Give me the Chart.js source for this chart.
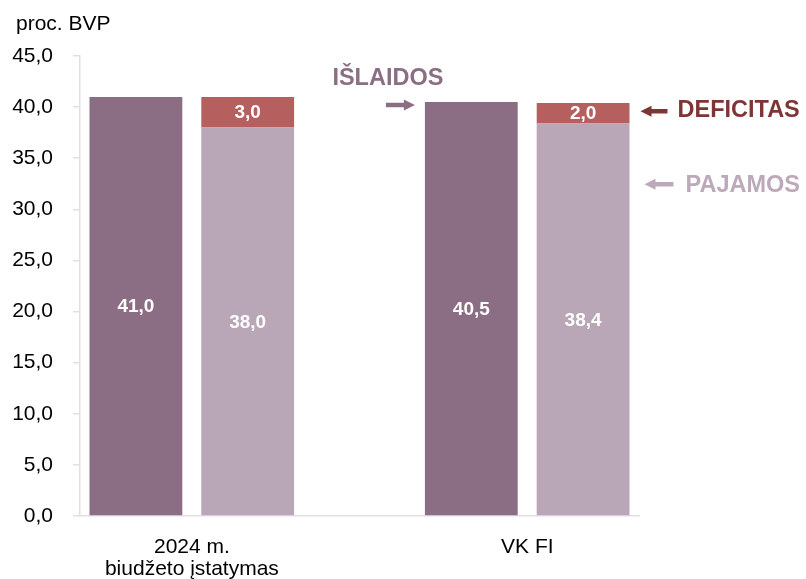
<!DOCTYPE html>
<html lang="lt">
<head>
<meta charset="UTF-8">
<title>proc. BVP</title>
<script src="https://cdn.jsdelivr.net/npm/chart.js@4"></script>
<style>
  * { margin: 0; padding: 0; }
  body { background: #fff; width: 806px; height: 579px; overflow: hidden; }
  canvas { display: block; }
</style>
</head>
<body>
<canvas id="chart" width="806" height="579"></canvas>
<script>
const categories = [['2024 m.', 'biudžeto įstatymas'], ['VK FI']]
const islaidos = [41.0, 40.5]
const pajamos = [38.0, 38.4]
const deficitas = [3.0, 2.0]
const yTicks = [0, 5, 10, 15, 20, 25, 30, 35, 40, 45]
const seriesNames = ['IŠLAIDOS', 'PAJAMOS', 'DEFICITAS']
const unitLabel = 'proc. BVP'

const colors = { isl: '#8c6e84', paj: '#b9a6b7', def: '#b5605f', defText: '#7d3535', pajText: '#bca9ba' }
const FONT = "'Liberation Sans', Arial, sans-serif"

// each group: expenses bar, revenue+deficit bar, then an empty slot between groups
const slotLabels = []
const islSlots = []
const pajSlots = []
const defSlots = []
categories.forEach((c, g) => {
  if (g > 0) {
    slotLabels.push('')
    islSlots.push(null); pajSlots.push(null); defSlots.push(null)
  }
  slotLabels.push(c, '')
  islSlots.push(islaidos[g], null)
  pajSlots.push(null, pajamos[g])
  defSlots.push(null, deficitas[g])
})

const fmt = v => v.toFixed(1).replace('.', ',')

const valueLabels = {
  id: 'valueLabels',
  afterDatasetsDraw(chart) {
    const ctx = chart.ctx
    ctx.save()
    ctx.font = 'bold 19px ' + FONT
    ctx.fillStyle = '#fff'
    ctx.textAlign = 'center'
    ctx.textBaseline = 'middle'
    chart.data.datasets.forEach((ds, i) => {
      chart.getDatasetMeta(i).data.forEach((el, j) => {
        if (ds.data[j] == null) return
        const p = el.getCenterPoint()
        ctx.fillText(fmt(ds.data[j]), p.x, p.y + 1)
      })
    })
    ctx.restore()
  }
}

const arrow = (ctx, x0, x1, y, color) => {
  const dir = Math.sign(x1 - x0)
  ctx.strokeStyle = color
  ctx.fillStyle = color
  ctx.lineWidth = 4.5
  ctx.beginPath()
  ctx.moveTo(x0, y)
  ctx.lineTo(x1 - dir * 9, y)
  ctx.stroke()
  ctx.beginPath()
  ctx.moveTo(x1, y)
  ctx.lineTo(x1 - dir * 11, y - 5.5)
  ctx.lineTo(x1 - dir * 11, y + 5.5)
  ctx.closePath()
  ctx.fill()
}

const callouts = {
  id: 'callouts',
  afterDraw(chart) {
    const ctx = chart.ctx
    const last = slotLabels.length - 1
    const islBar = chart.getDatasetMeta(0).data[last - 1]
    const defBar = chart.getDatasetMeta(2).data[last]
    const islLeft = islBar.x - islBar.width / 2
    const defRight = defBar.x + defBar.width / 2
    const defMid = (defBar.y + defBar.base) / 2
    ctx.save()
    ctx.textBaseline = 'middle'

    // unit label above the axis
    ctx.font = '21px ' + FONT
    ctx.fillStyle = '#000'
    ctx.textAlign = 'left'
    ctx.fillText(unitLabel, 16, 24)

    ctx.font = 'bold 23.5px ' + FONT

    // IŠLAIDOS
    const iy = islBar.y + 3
    arrow(ctx, islLeft - 39, islLeft - 10, iy, colors.isl)
    ctx.fillStyle = colors.isl
    ctx.textAlign = 'center'
    ctx.fillText(seriesNames[0], islLeft - 37, iy - 26)

    // DEFICITAS
    const dy = defMid - 2
    arrow(ctx, defRight + 38, defRight + 11, dy, colors.defText)
    ctx.fillStyle = colors.defText
    ctx.textAlign = 'left'
    ctx.fillText(seriesNames[2], defRight + 48, dy - 1)

    // PAJAMOS
    const py = dy + 73
    arrow(ctx, defRight + 44, defRight + 15, py, colors.pajText)
    ctx.fillStyle = colors.pajText
    ctx.fillText(seriesNames[1], defRight + 56, py + 1)
    ctx.restore()
  }
}

const axisColor = '#e6dde3'

new Chart(document.getElementById('chart'), {
  type: 'bar',
  data: {
    labels: slotLabels,
    datasets: [
      { label: 'Išlaidos', data: islSlots, backgroundColor: colors.isl },
      { label: 'Pajamos', data: pajSlots, backgroundColor: colors.paj },
      { label: 'Deficitas', data: defSlots, backgroundColor: colors.def }
    ].map(d => ({ ...d, barPercentage: 0.83, categoryPercentage: 1, borderWidth: 0 }))
  },
  options: {
    responsive: false,
    animation: false,
    devicePixelRatio: 1,
    layout: { padding: { left: 0, right: 167, top: 56, bottom: 0 } },
    plugins: {
      legend: { display: false },
      tooltip: { enabled: false },
      title: { display: false }
    },
    scales: {
      x: {
        stacked: true,
        grid: { display: false, drawTicks: false },
        border: { display: true, color: axisColor, width: 1.5 },
        ticks: {
          autoSkip: false,
          maxRotation: 0,
          labelOffset: 56,
          padding: 20,
          color: '#000',
          font: { family: FONT, size: 21, lineHeight: 1.05 }
        },
        afterFit: s => { s.height = 63 }
      },
      y: {
        stacked: true,
        min: yTicks[0],
        max: yTicks[yTicks.length - 1],
        afterBuildTicks: s => { s.ticks = yTicks.map(v => ({ value: v })) },
        grid: { drawOnChartArea: false, drawTicks: true, tickLength: 7, color: axisColor, lineWidth: 1.5 },
        border: { color: axisColor, width: 1.5 },
        ticks: {
          padding: 20,
          color: '#000',
          font: { family: FONT, size: 21 },
          callback: v => fmt(v)
        },
        afterFit: s => { s.width = 80 }
      }
    }
  },
  plugins: [valueLabels, callouts]
})
</script>
</body>
</html>
